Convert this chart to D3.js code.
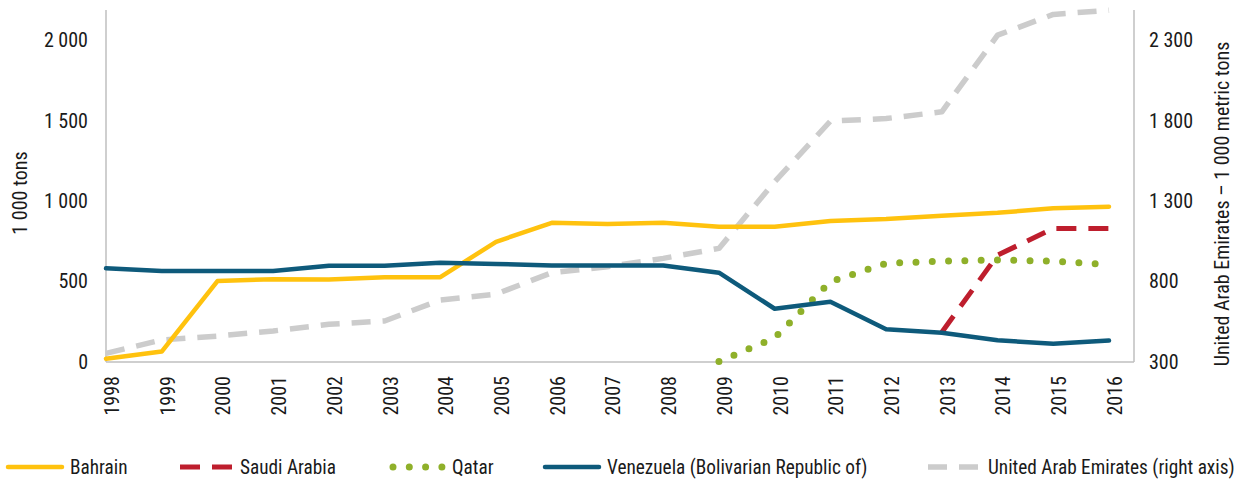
<!DOCTYPE html>
<html><head><meta charset="utf-8">
<script src="https://cdn.jsdelivr.net/npm/d3@7"></script>
<style>
body{margin:0;background:#fff;}
text{font-family:"Liberation Sans Narrow","Arial Narrow","Roboto Condensed",sans-serif;fill:#1a1a1a;}
</style></head><body>
<svg id="chart" width="1245" height="485"></svg>
<script>
const years = ["1998","1999","2000","2001","2002","2003","2004","2005","2006","2007","2008","2009","2010","2011","2012","2013","2014","2015","2016"];
const bahrain   = [20,65,503,515,513,527,527,747,865,857,865,840,840,876,888,909,927,955,965];
const saudi     = [null,null,null,null,null,null,null,null,null,null,null,null,null,null,null,185,664,830,830];
const qatar     = [null,null,null,null,null,null,null,null,null,null,null,3,150,499,613,627,634,627,605];
const venezuela = [582,565,565,565,598,598,617,609,600,600,600,555,331,375,203,182,135,113,133];
const uae       = [354,437,461,493,534,555,685,722,855,892,944,1006,1420,1797,1813,1855,2331,2460,2486];
const leftTicks = [0,500,1000,1500,2000];
const rightTicks = [300,800,1300,1800,2300];
const leftTitle = "1 000 tons";
const rightTitle = "United Arab Emirates \u2013 1 000 metric tons";

const series = [
  {name:"Bahrain", values:bahrain, axis:"L", color:"#FFC20E", width:4.5, dash:null, cap:"round"},
  {name:"Saudi Arabia", values:saudi, axis:"L", color:"#BE1E2D", width:5, dash:"20,12", cap:"butt"},
  {name:"Qatar", values:qatar, axis:"L", color:"#8FB02A", width:7, dash:"0,16.3", cap:"round"},
  {name:"Venezuela (Bolivarian Republic of)", values:venezuela, axis:"L", color:"#0E5A7B", width:4.5, dash:null, cap:"round"},
  {name:"United Arab Emirates (right axis)", values:uae, axis:"R", color:"#CCCCCC", width:5.5, dash:"19,12", cap:"butt"}
];

const fmt = d3.formatLocale({decimal:".",thousands:" ",grouping:[3],currency:["",""]}).format(",");
const svg = d3.select("#chart");
const x0 = 106, x1 = 1109, xEnd = 1134, yTop = 8, yBot = 362;
const x = d3.scalePoint().domain(years).range([x0, x1]).padding(0);
const yL = d3.scaleLinear().domain([0,2200]).range([yBot, yTop]);
const yR = d3.scaleLinear().domain([300,2500]).range([yBot, yTop]);
const axisColor = "#BFBFBF";

// axis lines
svg.append("line").attr("x1",x0).attr("x2",x0).attr("y1",10).attr("y2",yBot).attr("stroke",axisColor).attr("stroke-width",1.5);
svg.append("line").attr("x1",xEnd).attr("x2",xEnd).attr("y1",10).attr("y2",yBot).attr("stroke",axisColor).attr("stroke-width",1.5);

const gL = svg.append("g").attr("transform",`translate(${x0},0)`)
  .call(d3.axisLeft(yL).tickValues(leftTicks).tickFormat(fmt).tickSize(0).tickPadding(18));
gL.select(".domain").remove();
gL.selectAll("text").attr("font-size",20).attr("font-family",null).attr("fill","#1a1a1a");

const gR = svg.append("g").attr("transform",`translate(${xEnd},0)`)
  .call(d3.axisRight(yR).tickValues(rightTicks).tickFormat(fmt).tickSize(0).tickPadding(15));
gR.select(".domain").remove();
gR.selectAll("text").attr("font-size",20).attr("font-family",null).attr("fill","#1a1a1a");

const gB = svg.append("g").attr("transform",`translate(0,${yBot})`)
  .call(d3.axisBottom(x).tickSize(0).tickPadding(0));
gB.select(".domain").remove();
gB.selectAll("text").attr("font-size",20).attr("font-family",null).attr("fill","#1a1a1a")
  .attr("text-anchor","end").attr("transform","rotate(-90)")
  .attr("x",-14).attr("y",0).attr("dy","0.62em");
svg.append("line").attr("x1",x0).attr("x2",xEnd).attr("y1",yBot).attr("y2",yBot).attr("stroke",axisColor).attr("stroke-width",1.5);

// axis titles
svg.append("text").attr("transform","translate(27,193) rotate(-90)").attr("text-anchor","middle").attr("font-size",20).text(leftTitle);
svg.append("text").attr("transform","translate(1229,204) rotate(-90)").attr("text-anchor","middle").attr("font-size",20).text(rightTitle);

// lines
const order = [4,0,1,2,3];
order.forEach(i=>{
  const s = series[i];
  const yS = s.axis==="L"?yL:yR;
  const line = d3.line().defined(d=>d!=null).x((d,j)=>x(years[j])).y(d=>yS(d));
  svg.append("path").datum(s.values).attr("d",line).attr("fill","none")
    .attr("stroke",s.color).attr("stroke-width",s.width)
    .attr("stroke-linecap",s.cap).attr("stroke-linejoin","round")
    .attr("stroke-dasharray",s.dash);
});

// legend
const legX = [8,180,390,545,928];
const legY = 467;
series.forEach((s,i)=>{
  const g = svg.append("g").attr("transform",`translate(${legX[i]},${legY})`);
  g.append("line").attr("x1",s.dash==="0,16.3"?3:0).attr("x2",s.dash==="0,16.3"?52:s.dash?52:54).attr("y1",0).attr("y2",0)
    .attr("stroke",s.color).attr("stroke-width",s.width).attr("stroke-linecap",s.cap)
    .attr("stroke-dasharray",s.dash);
  g.append("text").attr("x",(s.dash==="0,16.3"?62:s.dash?54+6:62)).attr("dy","0.35em").attr("font-size",19.3).text(s.name);
});
</script></body></html>
